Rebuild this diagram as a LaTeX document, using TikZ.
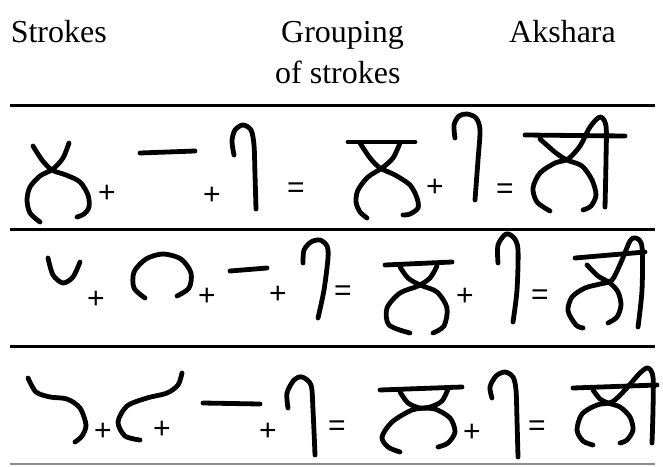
\documentclass[tikz,border=0pt]{standalone}
\usepackage{fontspec}
\setmainfont{Liberation Serif}
\newfontfamily\opfont{Liberation Sans}
\usetikzlibrary{positioning}
\tikzset{
  head/.style={font=\fontsize{32}{32}\selectfont, anchor=base west, inner sep=0pt},
  op/.style={font=\opfont\fontsize{30}{30}\selectfont, inner sep=0pt},
  pen/.style={line width=4.8pt, line cap=round, line join=round},
  rule/.style={line width=3pt},
  lastrule/.style={line width=2pt, draw=black!45}
}
\begin{document}
\begin{tikzpicture}[x=1pt, y=-1pt]
  \useasboundingbox (0,0) rectangle (663,466);
  % headings
  \node[head] (hstroke) at (10.6,42) {Strokes};
  \node[head] (hgroup) at (281,42) {Grouping};
  \node[head] (hgroup2) at (275,83) {of strokes};
  \node[head] (haksh) at (509,42) {Akshara};

  % rules
  \draw[rule] (10,105) -- (655,105);
  \draw[rule] (10,229) -- (655,229);
  \draw[rule] (10,346) -- (655,346);
  \draw[lastrule] (10,464) -- (655,464);

  % row 1
  \draw[pen] plot[smooth] coordinates {(33,146) (42,160) (52,170) (66,175) (80,182) (88,195) (89,207) (84,214) (77,217)};
  \draw[pen] plot[smooth] coordinates {(69,143) (63,158) (53,169) (40,176) (30,187) (27,200) (30,213) (40,222)};
  \node[op] (p11) at (107,194) {+};
  \draw[pen] (140,153) -- (195,151);
  \node[op] (p12) at (212,196) {+};
  \draw[pen] plot[smooth] coordinates {(234,155) (232,141) (235,130) (243,125) (251,130) (254,145) (255,175) (256,209)};
  \node[op] (e11) at (296,190) {=};
  \draw[pen] (348,142) -- (415,142);
  \draw[pen] plot[smooth] coordinates {(360,143) (370,158) (380,168) (395,175) (410,185) (417,198) (418,208) (410,214) (403,215)};
  \draw[pen] plot[smooth] coordinates {(400,143) (393,158) (382,168) (368,177) (358,190) (356,202) (360,212) (367,218)};
  \node[op] (p13) at (435,188) {+};
  \draw[pen] plot[smooth] coordinates {(455,138) (454,125) (459,116) (467,114) (476,118) (480,130) (478,160) (475,200)};
  \node[op] (e12) at (505,191) {=};
  \draw[pen] (525,135) -- (625,136);
  \draw[pen] plot[smooth] coordinates {(540,139) (556,153) (567,160) (582,166) (592,180) (596,195) (591,206) (583,210)};
  \draw[pen] plot[smooth] coordinates {(550,211) (537,202) (533,188) (540,173) (555,163) (568,159) (580,146) (590,127) (600,117) (606,126) (606,160) (605,207)};

  % row 2
  \draw[pen] plot[smooth] coordinates {(48,258) (53,275) (63,283) (73,277) (80,262)};
  \node[op] (p21) at (96,300) {+};
  \draw[pen] plot[smooth] coordinates {(145,298) (134,288) (134,272) (146,259) (163,254) (181,259) (191,273) (189,288) (177,296)};
  \node[op] (p22) at (207,297) {+};
  \draw[pen] (230,271) -- (267,268);
  \node[op] (p23) at (278,295) {+};
  \draw[pen] plot[smooth] coordinates {(303,263) (304,250) (311,242) (320,240) (327,246) (328,258) (324,290) (318,318)};
  \node[op] (e21) at (343,293) {=};
  \draw[pen] (385,265) -- (452,262);
  \draw[pen] plot[smooth] coordinates {(400,267) (408,278) (420,285) (437,292) (447,308) (444,326) (433,333)};
  \draw[pen] plot[smooth] coordinates {(437,266) (430,278) (418,286) (400,293) (387,308) (389,325) (410,333)};
  \node[op] (p24) at (465,297) {+};
  \draw[pen] plot[smooth] coordinates {(498,263) (498,245) (506,234) (514,238) (518,250) (517,290) (513,322)};
  \node[op] (e22) at (540,297) {=};
  \draw[pen] (575,258) -- (645,252);
  \draw[pen] plot[smooth] coordinates {(587,265) (598,276) (610,283) (618,292) (621,305) (617,317) (608,323)};
  \draw[pen] plot[smooth] coordinates {(583,328) (576,325) (568,311) (572,297) (585,288) (600,284) (612,280) (622,260) (630,241) (636,238) (642,247) (642,290) (638,327)};

  % row 3
  \draw[pen] plot[smooth] coordinates {(28,378) (36,392) (50,397) (67,399) (80,408) (86,425) (82,436) (75,442)};
  \node[op] (p31) at (103,432) {+};
  \draw[pen] plot[smooth] coordinates {(182,373) (178,385) (167,393) (147,398) (127,406) (118,422) (125,436) (140,440)};
  \node[op] (p32) at (162,430) {+};
  \draw[pen] (203,403) -- (260,404);
  \node[op] (p33) at (268,432) {+};
  \draw[pen] plot[smooth] coordinates {(288,408) (287,393) (294,380) (302,377) (311,385) (313,410) (315,455)};
  \node[op] (e31) at (337,428) {=};
  \draw[pen] (380,390) -- (462,387);
  \draw[pen] plot[smooth] coordinates {(400,392) (408,403) (420,408) (435,409) (450,418) (455,432) (448,443) (438,447)};
  \draw[pen] plot[smooth] coordinates {(448,389) (442,401) (430,407) (412,410) (392,422) (382,437) (388,447) (400,452)};
  \node[op] (p34) at (472,433) {+};
  \draw[pen] plot[smooth] coordinates {(492,398) (490,387) (496,376) (505,372) (513,377) (516,390) (517,420) (518,457)};
  \node[op] (e32) at (537,428) {=};
  \draw[pen] (573,388) -- (657,385);
  \draw[pen] plot[smooth] coordinates {(593,390) (600,399) (608,403) (620,407) (630,417) (633,430) (627,440) (620,443)};
  \draw[pen] plot[smooth] coordinates {(593,445) (583,441) (577,430) (582,414) (597,405) (612,402) (625,390) (640,373) (648,368) (653,377) (653,410) (652,443)};
\end{tikzpicture}
\end{document}
